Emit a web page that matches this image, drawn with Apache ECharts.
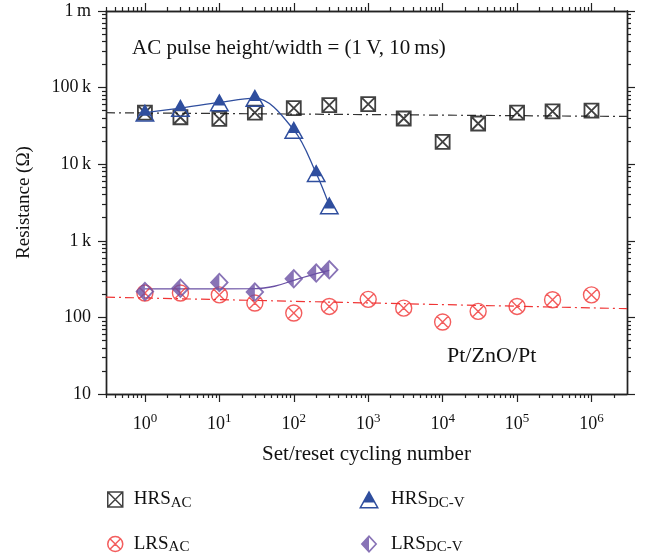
<!DOCTYPE html>
<html>
<head>
<meta charset="utf-8">
<script src="https://cdn.jsdelivr.net/npm/echarts@6/dist/echarts.min.js"></script>
<style>
html, body { margin: 0; padding: 0; background: #fff; }
#chart { width: 648px; height: 560px; }
</style>
</head>
<body>
<div id="chart"></div>
<script>
// cycles and resistances
var acCycles = [1, 3, 10, 30, 100, 300, 1000, 3000, 1e4, 3e4, 1e5, 3e5, 1e6];
var hrsAC = [47000, 41000, 39000, 47000, 54000, 59000, 61000, 39500, 19600, 34000, 47000, 49000, 50000];
var lrsAC = [208, 208, 197, 154, 114, 139, 172, 132, 87, 120, 139, 170, 197];
var dcCycles = [1, 3, 10, 30, 100, 200, 300];
var hrsDC = [47000, 54000, 64000, 73000, 28000, 7600, 2900];
var lrsDC = [218, 241, 286, 214, 319, 379, 418];
// guide lines
var lrsDCFitX = [1, 30, 55, 100, 200, 300];
var lrsDCFit = [236, 237, 255, 305, 372, 412];
var fitX = [0.3, 3e6];
var hrsACFit = [47000, 42000];
var lrsACFit = [184, 130];
// ticks
var xTicks = [1, 10, 100, 1000, 1e4, 1e5, 1e6];
var xTickExp = ['0', '1', '2', '3', '4', '5', '6'];
var yTicks = [10, 100, 1000, 1e4, 1e5, 1e6];
var yTickLabels = ['10', '100', '1\u2009k', '10\u2009k', '100\u2009k', '1\u2009m'];

var xMinor = [], yMinor = [];
for (var n = -1; n <= 6; n++) {
    for (var k = 2; k <= 9; k++) {
        var v = k * Math.pow(10, n);
        if (v > 0.3 && v < 3e6) xMinor.push(v);
        if (v > 10 && v < 1e6) yMinor.push(v);
    }
}

var FONT = '"Liberation Serif", "DejaVu Serif", serif';
var black = '#111', red = '#f03535', blue = '#2f4e9e', purple = '#6a50a4';

var boxX = 'path://M0,0L10,0L10,10L0,10ZM0,0L10,10M10,0L0,10';
var circX = 'path://M10,0A10,10,0,1,1,10,20A10,10,0,1,1,10,0ZM2.9,2.9L17.1,17.1M17.1,2.9L2.9,17.1';
var triHalf = 'path://M10,0L20,18L0,18ZM10,3.2L2.5,16.5L17.5,16.5ZM10,0L16.7,12L3.3,12Z';
var diaHalf = 'path://M11,0L22,12L11,24L0,12ZM11,3.2L2.9,12L11,20.8L19.1,12ZM11,0L11,24L0,12Z';

var names = { HRS_AC: ['HRS', 'AC'], LRS_AC: ['LRS', 'AC'], HRS_DC: ['HRS', 'DC-V'], LRS_DC: ['LRS', 'DC-V'] };

function pairs(xs, ys) {
    return xs.map(function (x, i) { return [x, ys[i]]; });
}
function nearest(arr, v) {
    var best = 0;
    for (var i = 1; i < arr.length; i++) {
        if (Math.abs(Math.log10(arr[i] / v)) < Math.abs(Math.log10(arr[best] / v))) best = i;
    }
    return best;
}

var axisLine = { show: true, lineStyle: { color: '#222', width: 1.4 } };
var tickStyle = { color: '#222', width: 1.2 };

function xAxis(pos, minor) {
    return {
        type: 'log', min: 0.3, max: 3e6, position: pos,
        axisLine: axisLine,
        splitLine: { show: false },
        axisTick: { show: true, customValues: minor ? xMinor : xTicks, length: minor ? 4 : 8, lineStyle: tickStyle },
        axisLabel: (pos === 'bottom' && !minor) ? {
            customValues: xTicks, margin: 18,
            formatter: function (v) { return '{b|10}{e|' + xTickExp[nearest(xTicks, v)] + '}'; },
            rich: {
                b: { fontFamily: FONT, fontSize: 18, color: '#111', lineHeight: 24 },
                e: { fontFamily: FONT, fontSize: 13, color: '#111', lineHeight: 15, verticalAlign: 'top' }
            }
        } : { show: false },
        name: (pos === 'bottom' && !minor) ? 'Set/reset cycling number' : '',
        nameLocation: 'middle', nameGap: 50,
        nameTextStyle: { fontFamily: FONT, fontSize: 21, color: '#111' }
    };
}
function yAxis(pos, minor) {
    return {
        type: 'log', min: 10, max: 1e6, position: pos,
        axisLine: axisLine,
        splitLine: { show: false },
        axisTick: { show: true, customValues: minor ? yMinor : yTicks, length: minor ? 4 : 8, lineStyle: tickStyle },
        axisLabel: (pos === 'left' && !minor) ? {
            customValues: yTicks, margin: 15,
            fontFamily: FONT, fontSize: 18, color: '#111',
            formatter: function (v) { return yTickLabels[nearest(yTicks, v)]; }
        } : { show: false },
        name: (pos === 'left' && !minor) ? 'Resistance (\u03a9)' : '',
        nameLocation: 'middle', nameGap: 72,
        nameTextStyle: { fontFamily: FONT, fontSize: 19, color: '#111' }
    };
}

var legendRich = {
    m: { fontFamily: FONT, fontSize: 19, color: '#111', lineHeight: 22, padding: [0, 0, 0, 6] },
    s: { fontFamily: FONT, fontSize: 15, color: '#111', lineHeight: 15, verticalAlign: 'bottom' }
};
function legendFmt(name) {
    return '{m|' + names[name][0] + '}{s|' + names[name][1] + '}';
}

var chart = echarts.init(document.getElementById('chart'));
chart.setOption({
    animation: false,
    grid: { left: 106, right: 21, top: 11, bottom: 166 },
    xAxis: [xAxis('bottom', false), xAxis('bottom', true), xAxis('top', false), xAxis('top', true)],
    yAxis: [yAxis('left', false), yAxis('left', true), yAxis('right', false), yAxis('right', true)],
    legend: [
        {
            left: 102, top: 485, orient: 'vertical', itemGap: 24,
            itemWidth: 15, itemHeight: 15,
            itemStyle: { borderWidth: 1.5 },
            data: [{ name: 'HRS_AC', icon: boxX }, { name: 'LRS_AC', icon: circX }],
            formatter: legendFmt,
            textStyle: { rich: legendRich }
        },
        {
            left: 354, top: 485, orient: 'vertical', itemGap: 24,
            itemWidth: 22, itemHeight: 18,
            itemStyle: { borderWidth: 0 },
            data: [{ name: 'HRS_DC', icon: triHalf }, { name: 'LRS_DC', icon: diaHalf }],
            formatter: legendFmt,
            textStyle: { rich: legendRich }
        }
    ],
    graphic: [
        { type: 'text', left: 132, top: 38, style: { text: 'AC pulse height/width = (1\u2009V, 10\u2009ms)', font: '21px ' + FONT, fill: '#111' } },
        { type: 'text', left: 447, top: 345, style: { text: 'Pt/ZnO/Pt', font: '22px ' + FONT, fill: '#111' } }
    ],
    series: [
        {
            name: 'HRS_AC fit', type: 'line', data: pairs(fitX, hrsACFit), symbol: 'none', z: 1,
            lineStyle: { color: '#333', width: 1.2, type: [9, 4, 2, 4] }
        },
        {
            name: 'LRS_AC fit', type: 'line', data: pairs(fitX, lrsACFit), symbol: 'none', z: 1,
            lineStyle: { color: red, width: 1.2, type: [9, 4, 2, 4] }
        },
        {
            name: 'LRS_DC fit', type: 'line', data: pairs(lrsDCFitX, lrsDCFit), symbol: 'none', smooth: 0.4, z: 1,
            lineStyle: { color: purple, width: 1.3 }
        },
        {
            name: 'HRS_AC', type: 'scatter', data: pairs(acCycles, hrsAC), symbol: boxX, symbolSize: 14,
            itemStyle: { color: 'rgba(0,0,0,0)', borderColor: black, borderWidth: 1.8 }
        },
        {
            name: 'LRS_AC', type: 'scatter', data: pairs(acCycles, lrsAC), symbol: circX, symbolSize: 16,
            itemStyle: { color: 'rgba(0,0,0,0)', borderColor: red, borderWidth: 1.4 }
        },
        {
            name: 'HRS_DC', type: 'line', data: pairs(dcCycles, hrsDC), symbol: triHalf, symbolSize: [20, 18],
            smooth: 0.35, showSymbol: true,
            itemStyle: { color: blue, borderWidth: 0 },
            lineStyle: { color: blue, width: 1.3 }
        },
        {
            name: 'LRS_DC', type: 'scatter', data: pairs(dcCycles, lrsDC), symbol: diaHalf, symbolSize: [19, 20],
            itemStyle: { color: purple, borderWidth: 0 }
        }
    ]
});
</script>
</body>
</html>
